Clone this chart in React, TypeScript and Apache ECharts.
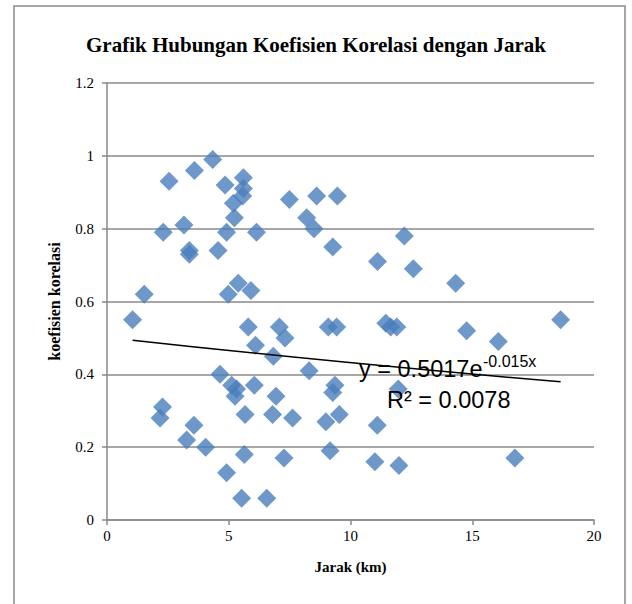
import React, { useEffect, useRef } from "react";
import * as echarts from "echarts";

const titleText = "Grafik Hubungan Koefisien Korelasi dengan Jarak";
const xAxisName = "Jarak (km)";
const yAxisName = "koefisien korelasi";

const jarak: number[] = [
  1.05, 1.53, 2.31, 2.55, 3.16, 3.38, 3.38, 3.59, 4.34, 4.85, 4.56, 4.91, 5.23, 5.19, 5.6, 5.6, 5.57, 6.14,
  7.49, 8.2, 8.5, 8.61, 9.46, 9.27, 12.21, 11.11, 12.58, 14.32, 5.39, 4.98, 5.91, 5.8, 7.08, 9.09, 9.43,
  11.45, 11.65, 11.9, 14.77, 16.07, 18.63, 7.31, 6.1, 6.83, 4.64, 5.12, 5.32, 5.26, 6.05, 6.94, 8.3, 9.36,
  9.27, 9.54, 8.99, 7.62, 11.96, 11.1, 2.28, 2.18, 3.57, 3.27, 4.05, 5.67, 6.8, 4.91, 5.64, 7.27, 9.16,
  11.0, 11.99, 16.75, 5.53, 6.56,
];
const koefisien: number[] = [
  0.55, 0.62, 0.79, 0.93, 0.81, 0.74, 0.73, 0.96, 0.99, 0.92, 0.74, 0.79, 0.83, 0.87, 0.94, 0.91, 0.89, 0.79,
  0.88, 0.83, 0.8, 0.89, 0.89, 0.75, 0.78, 0.71, 0.69, 0.65, 0.65, 0.62, 0.63, 0.53, 0.53, 0.53, 0.53,
  0.54, 0.53, 0.53, 0.52, 0.49, 0.55, 0.5, 0.48, 0.45, 0.4, 0.37, 0.36, 0.34, 0.37, 0.34, 0.41, 0.37,
  0.35, 0.29, 0.27, 0.28, 0.36, 0.26, 0.31, 0.28, 0.26, 0.22, 0.2, 0.29, 0.29, 0.13, 0.18, 0.17, 0.19,
  0.16, 0.15, 0.17, 0.06, 0.06,
];

// Exponential trendline shown on the chart: y = 0.5017 e^(-0.015x), R² = 0.0078
const trendA = 0.5017;
const trendB = -0.015;
const trendLabel = "y = 0.5017e";
const trendExpLabel = "-0.015x";
const r2Label = "R² = 0.0078";

export default function App() {
  const ref = useRef<HTMLDivElement>(null);
  useEffect(() => {
    if (!ref.current) return;
    const chart = echarts.init(ref.current, null, { renderer: "svg" });
    const points = jarak.map((x, i) => [x, koefisien[i]]);
    const xMin = Math.min(...jarak);
    const xMax = Math.max(...jarak);
    const trendXs = [xMin, (xMin + xMax) / 2, xMax];
    const trend = trendXs.map((x) => [x, trendA * Math.exp(trendB * x)]);
    const serif = "'Liberation Serif', 'Times New Roman', serif";
    const sans = "'Liberation Sans', Arial, sans-serif";
    const gray = "#8a8a8a";
    chart.setOption({
      animation: false,
      backgroundColor: "#ffffff",
      title: {
        text: titleText,
        left: "center",
        top: 29,
        textStyle: { fontFamily: serif, fontWeight: "bold", fontSize: 21, color: "#000" },
      },
      grid: { left: 107, right: 38, top: 83, bottom: 84 },
      xAxis: {
        type: "value",
        min: 0,
        max: 20,
        interval: 5,
        name: xAxisName,
        nameLocation: "middle",
        nameGap: 39,
        nameTextStyle: { fontFamily: serif, fontWeight: "bold", fontSize: 15, color: "#000" },
        axisLine: { show: true, lineStyle: { color: gray, width: 1.5 } },
        axisTick: { show: true, length: 5, lineStyle: { color: gray, width: 1.5 } },
        axisLabel: { fontFamily: serif, fontSize: 15, color: "#000", margin: 8 },
        splitLine: { show: false },
      },
      yAxis: {
        type: "value",
        min: 0,
        max: 1.2,
        interval: 0.2,
        name: yAxisName,
        nameLocation: "middle",
        nameGap: 45,
        nameTextStyle: { fontFamily: serif, fontWeight: "bold", fontSize: 16, color: "#000" },
        axisLine: { show: true, lineStyle: { color: gray, width: 1.5 } },
        axisTick: { show: true, length: 5, lineStyle: { color: gray, width: 1.5 } },
        axisLabel: { fontFamily: serif, fontSize: 15, color: "#000", margin: 13 },
        splitLine: { show: true, lineStyle: { color: gray, width: 1.5 } },
      },
      graphic: [
        {
          type: "rect",
          shape: { x: 14, y: 6, width: 611, height: 640 },
          style: { fill: "none", stroke: gray, lineWidth: 1.5 },
          silent: true,
          z: -1,
        },
        {
          type: "text",
          x: 359,
          y: 369,
          z: 10,
          style: { text: trendLabel, font: `23.5px ${sans}`, fill: "#000", textVerticalAlign: "middle" },
        },
        {
          type: "text",
          x: 483,
          y: 361,
          z: 10,
          style: { text: trendExpLabel, font: `16px ${sans}`, fill: "#000", textVerticalAlign: "middle" },
        },
        {
          type: "text",
          x: 387,
          y: 400,
          z: 10,
          style: { text: r2Label, font: `23.5px ${sans}`, fill: "#000", textVerticalAlign: "middle" },
        },
      ],
      series: [
        {
          type: "scatter",
          data: points,
          symbol: "diamond",
          symbolSize: 19,
          itemStyle: { color: "#4A7EBB" },
          z: 2,
        },
        {
          type: "line",
          data: trend,
          showSymbol: false,
          smooth: true,
          lineStyle: { color: "#000", width: 1.5 },
          z: 3,
        },
      ],
    });
    return () => chart.dispose();
  }, []);
  return (
    <div
      ref={ref}
      style={{ position: "absolute", left: 0, top: 0, width: 632, height: 604 }}
    />
  );
}
